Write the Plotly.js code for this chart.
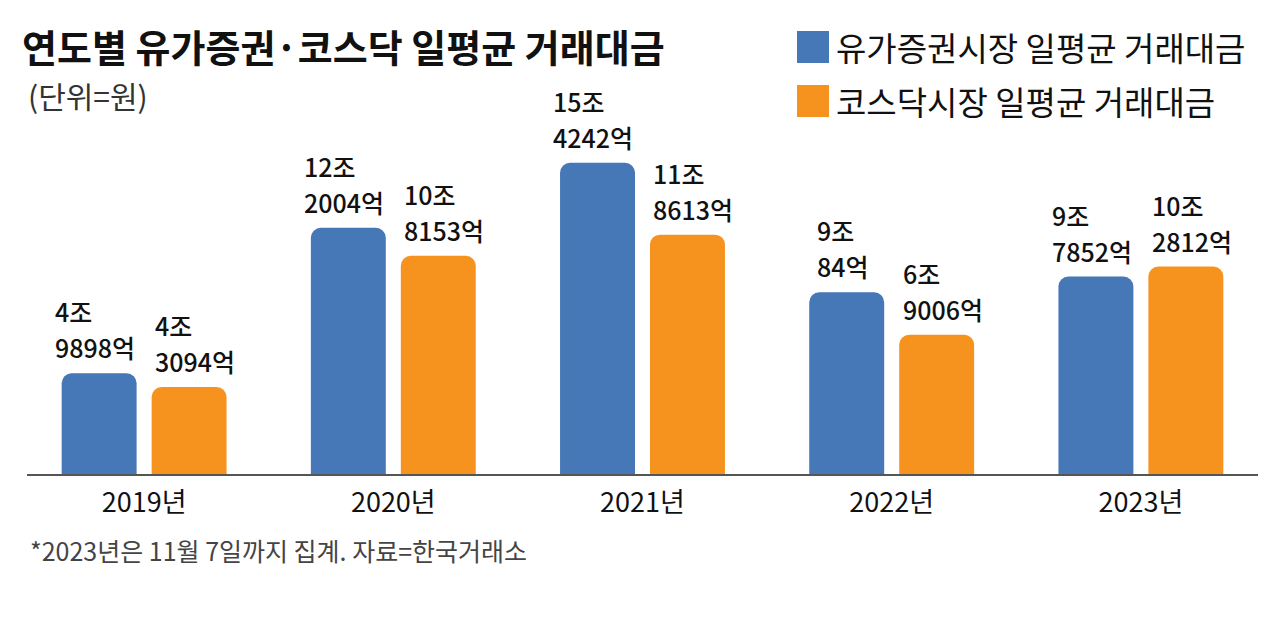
<!DOCTYPE html>
<html>
<head>
<meta charset="utf-8">
<script src="https://cdn.plot.ly/plotly-3.0.1.min.js"></script>
<style>
html,body{margin:0;padding:0;background:#fff;}
#chart{width:1280px;height:628px;}
</style>
</head>
<body>
<div id="chart"></div>
<script>
// Data (values in 억원)
const years = ['2019년', '2020년', '2021년', '2022년', '2023년'];
const kospiValues = [49898, 122004, 154242, 90084, 97852];
const kosdaqValues = [43094, 108153, 118613, 69006, 102812];
const seriesNames = ['유가증권시장 일평균 거래대금', '코스닥시장 일평균 거래대금'];
const titleText = '연도별 유가증권·코스닥 일평균 거래대금';
const unitText = '(단위=원)';
const noteText = '*2023년은 11월 7일까지 집계. 자료=한국거래소';

const colors = ['#4677b6', '#f6931f'];
const FAMILY = '"Noto Sans CJK KR", sans-serif';
const LABEL_SIZE = 25;
const LABEL_WEIGHT = 500;
const labelFont = {family: FAMILY, size: LABEL_SIZE, color: '#111', weight: LABEL_WEIGHT};

function toJo(v) { return v / 10000; }
function lines(v) { return [Math.floor(v / 10000) + '조', (v % 10000) + '억']; }

const cv = document.createElement('canvas').getContext('2d');
cv.font = LABEL_WEIGHT + ' ' + LABEL_SIZE + 'px "Noto Sans CJK KR"';
function textW(s) { return cv.measureText(s).width; }

const traces = [kospiValues, kosdaqValues].map((vals, i) => ({
  type: 'bar',
  name: seriesNames[i],
  x: years,
  y: vals.map(toJo),
  marker: {color: colors[i], cornerradius: 10},
  hoverinfo: 'none',
  showlegend: false
}));

const annotations = [];
const series = [kospiValues, kosdaqValues];
const centerShift = [-50, 50];   // bar-center offset within group plus a small outward nudge
series.forEach((vals, i) => {
  years.forEach((yr, j) => {
    const ls = lines(vals[j]);
    const w = Math.max(textW(ls[0]), textW(ls[1]));
    const xs = centerShift[i] - w / 2;
    [62, 26].forEach((ys, k) => {
      annotations.push({
        x: yr, y: toJo(vals[j]), xref: 'x', yref: 'y',
        text: ls[k], showarrow: false, borderpad: 0,
        xanchor: 'left', yanchor: 'middle',
        xshift: xs, yshift: ys, font: labelFont
      });
    });
  });
});

// Title, unit, footnote
annotations.push({
  xref: 'paper', yref: 'paper', x: 0, y: 1, xanchor: 'left', yanchor: 'middle',
  text: '<b>' + titleText + '</b>', showarrow: false,
  xshift: -7, yshift: 131 - 45,
  font: {family: FAMILY, size: 38, color: '#111'}
});
annotations.push({
  xref: 'paper', yref: 'paper', x: 0, y: 1, xanchor: 'left', yanchor: 'middle',
  text: unitText, showarrow: false,
  xshift: -1, yshift: 131 - 95,
  font: {family: FAMILY, size: 30, color: '#333'}
});
annotations.push({
  xref: 'paper', yref: 'paper', x: 0, y: 0, xanchor: 'left', yanchor: 'middle',
  text: noteText, showarrow: false,
  xshift: 1, yshift: -(550 - 474),
  font: {family: FAMILY, size: 25, color: '#444'}
});

// Custom legend
const shapes = [];
const legendRows = [47, 101];
seriesNames.forEach((nm, i) => {
  const cy = legendRows[i];
  shapes.push({
    type: 'rect', xref: 'paper', yref: 'paper',
    x0: (797 - 27) / 1231, x1: (829 - 27) / 1231,
    y0: (474 - (cy + 16)) / 343, y1: (474 - (cy - 16)) / 343,
    fillcolor: colors[i], line: {width: 0}
  });
  annotations.push({
    xref: 'paper', yref: 'paper', x: (834 - 27) / 1231, y: (474 - cy) / 343,
    xanchor: 'left', yanchor: 'middle', text: nm, showarrow: false,
    font: {family: FAMILY, size: 33, color: '#111'}
  });
});

const layout = {
  width: 1280, height: 628,
  margin: {l: 27, r: 22, t: 131, b: 154},
  paper_bgcolor: '#fff', plot_bgcolor: '#fff',
  barmode: 'group', bargap: 0.278, bargroupgap: 0.167,
  xaxis: {
    type: 'category', range: [-0.47, 4.47],
    showline: true, linecolor: '#555', linewidth: 2,
    ticks: '', showgrid: false, zeroline: false,
    tickfont: {family: FAMILY, size: 27, color: '#111'},
    ticklabelstandoff: 4
  },
  yaxis: {
    range: [0, 17], visible: false, showgrid: false, zeroline: false, fixedrange: true
  },
  annotations: annotations,
  shapes: shapes,
  showlegend: false
};

Plotly.newPlot('chart', traces, layout, {displayModeBar: false, staticPlot: true});
</script>
</body>
</html>
